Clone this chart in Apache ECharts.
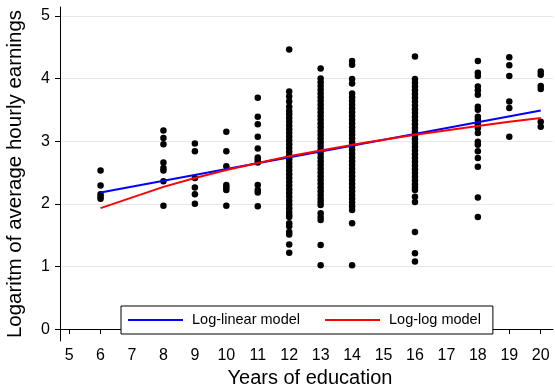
<!DOCTYPE html>
<html>
<head>
<meta charset="utf-8">
<script src="https://cdn.jsdelivr.net/npm/echarts@6/dist/echarts.min.js"></script>
<style>
  html, body { margin: 0; padding: 0; background: #fff; }
  #chart { width: 555px; height: 387px; }
</style>
</head>
<body>
<div id="chart"></div>
<script>
// observed log hourly earnings, one list per years-of-education value
var edu6 = [2.53, 2.29, 2.15, 2.11, 2.08];
var edu8 = [3.17, 3.05, 2.95, 2.66, 2.57, 2.53, 2.36, 1.97];
var edu9 = [2.96, 2.84, 2.41, 2.26, 2.15, 2.00];
var edu10 = [3.15, 2.84, 2.60, 2.30, 2.26, 2.22, 1.97];
var edu11 = [3.69, 3.39, 3.27, 3.07, 2.88, 2.74, 2.70, 2.66, 2.30, 2.22, 2.18, 1.96];
var edu12 = [4.46, 3.79, 3.71, 3.63, 3.55, 3.48, 3.43, 3.37, 3.31, 3.25, 3.19, 3.13, 3.07, 3.01,
  2.95, 2.89, 2.83, 2.77, 2.71, 2.65, 2.59, 2.53, 2.47, 2.41, 2.35, 2.29, 2.23, 2.17, 2.11,
  2.05, 1.99, 1.93, 1.87, 1.82, 1.79, 1.69, 1.64, 1.55, 1.51, 1.35, 1.22];
var edu13 = [4.16, 4.00, 3.94, 3.88, 3.82, 3.76, 3.70, 3.64, 3.58, 3.52, 3.46, 3.40, 3.34, 3.28,
  3.22, 3.16, 3.10, 3.04, 2.98, 2.92, 2.86, 2.80, 2.74, 2.68, 2.62, 2.56, 2.50, 2.44, 2.38,
  2.32, 2.26, 2.20, 2.14, 2.08, 2.03, 1.98, 1.85, 1.79, 1.74, 1.34, 1.02];
var edu14 = [4.28, 4.22, 3.99, 3.92, 3.76, 3.70, 3.64, 3.58, 3.52, 3.46, 3.40, 3.34, 3.28, 3.22,
  3.16, 3.10, 3.04, 2.98, 2.92, 2.86, 2.80, 2.74, 2.68, 2.62, 2.56, 2.50, 2.44, 2.38, 2.32,
  2.26, 2.20, 2.14, 2.08, 2.02, 1.96, 1.90, 1.69, 1.02];
var edu16 = [4.35, 3.99, 3.93, 3.87, 3.81, 3.75, 3.69, 3.63, 3.57, 3.51, 3.45, 3.39, 3.33, 3.27,
  3.21, 3.15, 3.09, 3.03, 2.97, 2.91, 2.85, 2.79, 2.73, 2.67, 2.61, 2.55, 2.49, 2.43, 2.37,
  2.31, 2.26, 2.22, 2.11, 2.03, 1.55, 1.21, 1.08];
var edu18 = [4.28, 4.09, 4.04, 3.87, 3.81, 3.74, 3.55, 3.50, 3.39, 3.34, 3.27, 3.21, 3.13,
  2.99, 2.94, 2.84, 2.73, 2.59, 2.10, 1.79];
var edu19 = [4.34, 4.21, 4.04, 3.63, 3.53, 3.07];
var edu20 = [4.11, 4.06, 3.88, 3.83, 3.31, 3.23];

var years = [6, 8, 9, 10, 11, 12, 13, 14, 16, 18, 19, 20];
var columns = [edu6, edu8, edu9, edu10, edu11, edu12, edu13, edu14, edu16, edu18, edu19, edu20];

// fitted values
var linYears = [6, 20];
var logLinearFit = [2.18, 3.49];
var logLogFit = [1.93, 2.27, 2.41, 2.54, 2.65, 2.76, 2.85, 2.94, 3.10, 3.24, 3.31, 3.37];

var xTicks = [5, 6, 7, 8, 9, 10, 11, 12, 13, 14, 15, 16, 17, 18, 19, 20];
var yTicks = [0, 1, 2, 3, 4, 5];

var points = [];
years.forEach(function(yr, i) {
  columns[i].forEach(function(v) { points.push([yr, v]); });
});

var font = 'Liberation Sans, Arial, sans-serif';
var chart = echarts.init(document.getElementById('chart'), null, { renderer: 'canvas' });
chart.setOption({
  animation: false,
  grid: { left: 60, right: 2, top: 7, bottom: 46, outerBoundsMode: 'none', containLabel: false },
  legend: {
    left: 121,
    top: 306,
    padding: [5, 12, 5, 7],
    borderColor: '#000',
    borderWidth: 1,
    borderRadius: 0,
    backgroundColor: '#fff',
    icon: 'rect',
    itemWidth: 55,
    itemHeight: 2,
    itemGap: 25,
    textStyle: { fontFamily: font, fontSize: 14.5, color: '#000', padding: [0, 0, 0, 4], lineHeight: 18 },
    data: ['Log-linear model', 'Log-log model']
  },
  xAxis: {
    type: 'value',
    min: 4.71,
    max: 20.39,
    name: 'Years of education',
    nameLocation: 'middle',
    nameGap: 27,
    nameTextStyle: { fontFamily: font, fontSize: 20, color: '#000', padding: [0, 0, 0, 7] },
    axisLine: { lineStyle: { color: '#000', width: 1 } },
    axisTick: { length: 5, lineStyle: { color: '#000' }, customValues: xTicks },
    axisLabel: { fontFamily: font, fontSize: 16, color: '#000', margin: 7, customValues: xTicks },
    splitLine: { show: false }
  },
  yAxis: {
    type: 'value',
    min: -0.19,
    max: 5.14,
    name: 'Logaritm of average hourly earnings',
    nameLocation: 'middle',
    nameGap: 34,
    nameRotate: 90,
    nameTextStyle: { fontFamily: font, fontSize: 20.5, color: '#000' },
    axisLine: { show: true, lineStyle: { color: '#000', width: 1 } },
    axisTick: { show: true, length: 5, lineStyle: { color: '#000' }, customValues: yTicks },
    axisLabel: { fontFamily: font, fontSize: 16, color: '#000', margin: 10, customValues: yTicks },
    splitLine: { show: true, lineStyle: { color: '#e8e8e8', width: 1 } }
  },
  series: [
    {
      type: 'scatter',
      data: points,
      symbolSize: 6.5,
      itemStyle: { color: '#000', opacity: 1 },
      z: 2
    },
    {
      name: 'Log-linear model',
      type: 'line',
      data: linYears.map(function(x, i) { return [x, logLinearFit[i]]; }),
      symbol: 'none',
      lineStyle: { color: '#0000ff', width: 2 },
      itemStyle: { color: '#0000ff' },
      z: 3
    },
    {
      name: 'Log-log model',
      type: 'line',
      data: years.map(function(x, i) { return [x, logLogFit[i]]; }),
      symbol: 'none',
      lineStyle: { color: '#ff0000', width: 2 },
      itemStyle: { color: '#ff0000' },
      z: 4
    }
  ]
});
window.addEventListener('resize', function() { chart.resize(); });
</script>
</body>
</html>
